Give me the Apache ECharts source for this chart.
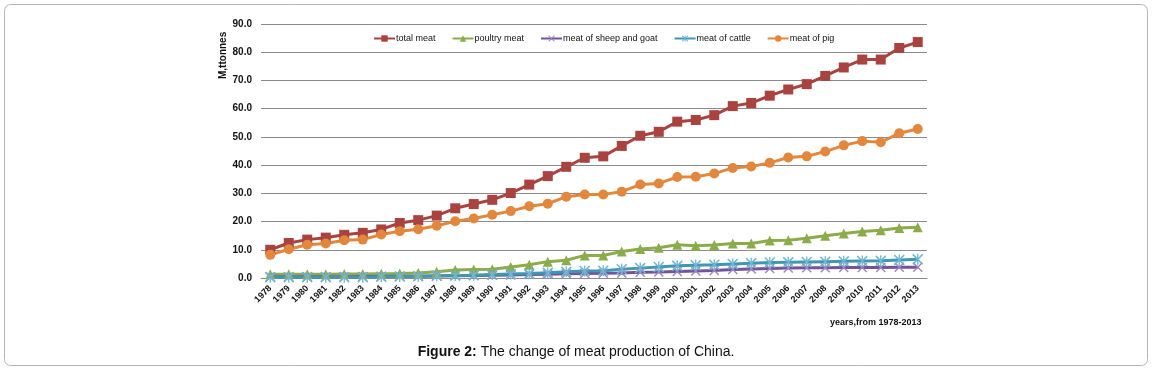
<!DOCTYPE html>
<html>
<head>
<meta charset="utf-8">
<script src="https://cdn.jsdelivr.net/npm/echarts@6/dist/echarts.min.js"></script>
<style>
html,body{margin:0;padding:0;background:#fff;}
#chart{width:1152px;height:370px;}
</style>
</head>
<body>
<div id="chart"></div>
<script>
var years = ['1978','1979','1980','1981','1982','1983','1984','1985','1986','1987','1988','1989',
  '1990','1991','1992','1993','1994','1995','1996','1997','1998','1999','2000','2001',
  '2002','2003','2004','2005','2006','2007','2008','2009','2010','2011','2012','2013'];

var totalMeat = [10.0,12.4,13.6,14.3,15.3,16.0,17.2,19.5,20.5,22.1,24.7,26.2,
  27.7,30.1,33.1,36.1,39.4,42.6,43.1,46.8,50.4,51.8,55.4,56.0,
  57.7,60.9,62.0,64.6,66.8,68.7,71.6,74.6,77.4,77.4,81.5,83.6];
var poultryMeat = [1.3,1.3,1.3,1.3,1.4,1.4,1.5,1.6,1.8,2.2,2.8,3.0,
  3.1,3.9,4.7,5.8,6.3,8.0,8.0,9.4,10.3,10.7,11.8,11.4,
  11.7,12.2,12.2,13.3,13.4,14.1,15.0,15.8,16.5,16.9,17.7,18.0];
var sheepMeat = [0.4,0.4,0.4,0.4,0.4,0.5,0.5,0.6,0.6,0.7,0.8,0.9,
  1.0,1.1,1.2,1.3,1.5,1.6,1.7,1.8,2.0,2.1,2.3,2.5,
  2.7,3.0,3.2,3.4,3.5,3.6,3.6,3.7,3.7,3.7,3.8,3.8];
var cattleMeat = [0.3,0.3,0.3,0.3,0.3,0.3,0.4,0.5,0.6,0.8,0.9,1.0,
  1.2,1.4,1.6,1.9,2.2,2.5,2.6,3.1,3.5,3.9,4.3,4.5,
  4.7,5.0,5.2,5.5,5.6,5.7,5.8,5.9,6.0,6.1,6.4,6.6];
var pigMeat = [8.2,10.2,11.8,12.2,13.4,13.6,15.4,16.6,17.3,18.5,20.1,21.1,
  22.4,23.7,25.4,26.3,28.8,29.6,29.6,30.6,33.1,33.5,35.8,35.9,
  37.0,39.0,39.5,40.8,42.7,43.1,44.8,47.0,48.5,48.1,51.3,52.8];

var xSymbol = 'path://M0,1L1,0L5,4L9,0L10,1L6,5L10,9L9,10L5,6L1,10L0,9L4,5Z';
var starSymbol = 'path://M0,1L1,0L5,4L9,0L10,1L6,5L10,9L9,10L5,6L1,10L0,9L4,5Z M4.4,0L5.6,0L5.6,4L4.4,4Z M4.4,6L5.6,6L5.6,10L4.4,10Z';

function line(name, data, color, symbol, size, markColor){
  return {
    name: name,
    type: 'line',
    data: data,
    symbol: symbol,
    symbolSize: size,
    showAllSymbol: true,
    lineStyle: {color: color, width: 3},
    itemStyle: {color: markColor || color},
    emphasis: {disabled: true}
  };
}

var chart = echarts.init(document.getElementById('chart'));
chart.setOption({
  animation: false,
  textStyle: {fontFamily: 'Liberation Sans Narrow, Liberation Sans, sans-serif'},
  title: {
    text: '{b|Figure 2:} The change of meat production of China.',
    left: 'center',
    top: 340,
    textStyle: {
      fontFamily: 'Liberation Sans, Arial, sans-serif',
      fontSize: 14, fontWeight: 'normal', color: '#111',
      rich: {b: {fontFamily: 'Liberation Sans, Arial, sans-serif', fontSize: 14, fontWeight: 'bold', color: '#111'}}
    }
  },
  graphic: [{
    type: 'rect',
    shape: {x: 4.5, y: 4.5, width: 1143, height: 361, r: 6},
    style: {fill: 'none', stroke: '#b5b5b5', lineWidth: 1},
    silent: true
  }, {
    type: 'text',
    left: 830, top: 318,
    style: {text: 'years,from 1978-2013', font: 'bold 9px "Liberation Sans", sans-serif', fill: '#111'}
  }, {
    type: 'text',
    x: 218, y: 79,
    rotation: Math.PI / 2,
    style: {text: 'M,ttonnes', font: 'bold 10px "Liberation Sans", sans-serif', fill: '#111'}
  }],
  legend: {
    top: 29,
    left: 368,
    itemWidth: 21,
    itemHeight: 8,
    itemGap: 16,
    textStyle: {fontSize: 9, color: '#111', padding: [0, 0, 0, -4]},
    data: ['total meat', 'poultry meat', 'meat of sheep and goat', 'meat of cattle', 'meat of pig']
  },
  grid: {left: 261, right: 225, top: 24, bottom: 92, outerBoundsMode: 'none'},
  xAxis: {
    type: 'category',
    data: years,
    axisLine: {lineStyle: {color: '#8a8a8a', width: 1}},
    axisTick: {show: false},
    axisLabel: {rotate: 45, interval: 0, fontSize: 9, fontWeight: 'bold', color: '#111', margin: 9}
  },
  yAxis: {
    type: 'value',
    min: 0, max: 90, interval: 10,
    axisLine: {show: false},
    axisTick: {show: false},
    splitLine: {lineStyle: {color: '#8a8a8a', width: 1}},
    axisLabel: {fontSize: 10, fontWeight: 'bold', color: '#111', margin: 9,
      formatter: function(v){ return v.toFixed(1); }}
  },
  series: [
    line('total meat', totalMeat, '#a8433f', 'rect', 10),
    line('poultry meat', poultryMeat, '#8cab4a', 'triangle', 10),
    line('meat of sheep and goat', sheepMeat, '#74539a', xSymbol, 10, '#9a86bd'),
    line('meat of cattle', cattleMeat, '#3d98b4', starSymbol, 11, '#6fb6cf'),
    line('meat of pig', pigMeat, '#e2873c', 'circle', 10)
  ]
});
</script>
</body>
</html>
